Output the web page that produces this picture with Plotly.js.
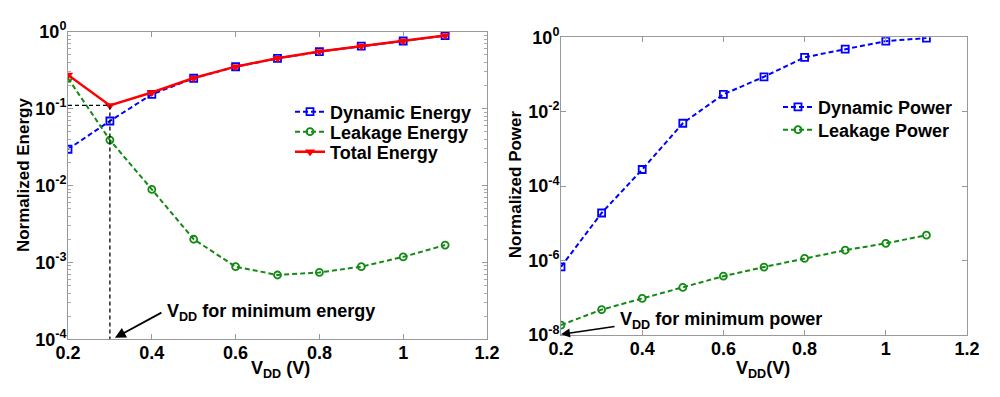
<!DOCTYPE html>
<html><head><meta charset="utf-8">
<script src="https://cdn.plot.ly/plotly-3.0.1.min.js"></script>
<style>html,body{margin:0;padding:0;background:#fff}#c{width:1000px;height:397px}</style>
</head><body><div id="c"></div>
<script>
const vdd = [0.2,0.3,0.4,0.5,0.6,0.7,0.8,0.9,1.0,1.1];
const dynEnergy = [0.0296,0.069,0.153,0.248,0.35,0.45,0.55,0.65,0.757,0.887];
const leakEnergy = [0.248,0.039,0.0089,0.002,0.00088,0.000686,0.00074,0.00088,0.00118,0.00168];
const totEnergy = [0.273,0.110,0.162,0.25,0.351,0.451,0.551,0.651,0.758,0.889];
const dynPower = [6.8e-7,1.9e-5,2.8e-4,4.9e-3,0.0294,0.087,0.29,0.48,0.79,0.955];
const leakPower = [1.85e-8,4.8e-8,9.6e-8,1.9e-7,3.8e-7,6.7e-7,1.15e-6,1.9e-6,2.9e-6,4.8e-6];
const xTicks = [0.2,0.4,0.6,0.8,1,1.2];
const xTickText = ['0.2','0.4','0.6','0.8','1','1.2'];
const eTicks = [1e-4,1e-3,1e-2,1e-1,1];
const eTickText = ['10<sup>-4</sup>','10<sup>-3</sup>','10<sup>-2</sup>','10<sup>-1</sup>','10<sup>0</sup>'];
const pTicks = [1e-8,1e-6,1e-4,1e-2,1];
const pTickText = ['10<sup>-8</sup>','10<sup>-6</sup>','10<sup>-4</sup>','10<sup>-2</sup>','10<sup>0</sup>'];

const BLUE='#0000ff', GREEN='#138a13', RED='#ff0000';
const FF = 'Liberation Sans, Arial, sans-serif';
const fnt = (s)=>({family:FF,size:s,color:'#000',weight:'bold'});
const DASH = '5px,3px';

const iMin = 1; // index of min total energy
const traces = [
 {x:vdd,y:dynEnergy,name:'Dynamic Energy',mode:'lines+markers',xaxis:'x',yaxis:'y',legend:'legend',
  line:{color:BLUE,dash:DASH,width:2},marker:{symbol:'square-open',size:7,color:BLUE,line:{width:1.8}}},
 {x:vdd,y:leakEnergy,name:'Leakage Energy',mode:'lines+markers',xaxis:'x',yaxis:'y',legend:'legend2',
  line:{color:GREEN,dash:DASH,width:2},marker:{symbol:'circle-open',size:7,color:GREEN,line:{width:1.8}}},
 {x:vdd,y:totEnergy,name:'Total Energy',mode:'lines+markers',xaxis:'x',yaxis:'y',legend:'legend3',
  line:{color:RED,width:2.5},marker:{symbol:'triangle-down',size:9,color:RED}},
 {x:[vdd[0],vdd[iMin],vdd[iMin]],y:[totEnergy[iMin],totEnergy[iMin],eTicks[0]],mode:'lines',showlegend:false,
  xaxis:'x',yaxis:'y',line:{color:'#000',dash:'4px,3px',width:1.3},hoverinfo:'skip'},
 {x:vdd,y:dynPower,name:'Dynamic Power',mode:'lines+markers',xaxis:'x2',yaxis:'y2',legend:'legend4',
  line:{color:BLUE,dash:DASH,width:2},marker:{symbol:'square-open',size:7,color:BLUE,line:{width:1.8}}},
 {x:vdd,y:leakPower,name:'Leakage Power',mode:'lines+markers',xaxis:'x2',yaxis:'y2',legend:'legend5',
  line:{color:GREEN,dash:DASH,width:2},marker:{symbol:'circle-open',size:7,color:GREEN,line:{width:1.8}}}
];

const axBase = {showline:true,linecolor:'#999',linewidth:1,mirror:'ticks',ticks:'inside',ticklen:5,tickcolor:'#999',
  showgrid:false,zeroline:false,tickfont:fnt(18)};
const leg = (x,y)=>({x:x,y:y,xanchor:'left',yanchor:'middle',font:fnt(18),bgcolor:'rgba(255,255,255,0)',itemwidth:30});
const layout = {
 width:1000,height:397,margin:{l:0,r:0,t:0,b:0},paper_bgcolor:'#fff',plot_bgcolor:'#fff',
 xaxis:Object.assign({},axBase,{domain:[0.068,0.487],range:[0.2,1.2],tickvals:xTicks,ticktext:xTickText,anchor:'y',
   ticklabelstandoff:-3}),
 yaxis:Object.assign({},axBase,{domain:[0.1453,0.9202],type:'log',range:[-4,0],tickvals:eTicks,ticktext:eTickText,anchor:'x',
   ticklabelstandoff:-3,minor:{ticks:'inside',ticklen:3,tickcolor:'#aaa',dtick:'D1'}}),
 xaxis2:Object.assign({},axBase,{domain:[0.561,0.967],range:[0.2,1.2],tickvals:xTicks,ticktext:xTickText,anchor:'y2',
   ticklabelstandoff:-3}),
 yaxis2:Object.assign({},axBase,{domain:[0.1562,0.906],type:'log',range:[-8,0],tickvals:pTicks,ticktext:pTickText,anchor:'x2',
   ticklabelstandoff:-3}),
 legend:leg(0.29,0.718), legend2:leg(0.29,0.6675), legend3:leg(0.29,0.617),
 legend4:leg(0.778,0.730), legend5:leg(0.778,0.6725),
 showlegend:true,
 annotations:[
  {xref:'paper',yref:'paper',x:0.28,y:0.07,xanchor:'center',yanchor:'middle',showarrow:false,
   text:'V<sub>DD</sub> (V)',font:fnt(18)},
  {xref:'paper',yref:'paper',x:0.763,y:0.07,xanchor:'center',yanchor:'middle',showarrow:false,
   text:'V<sub>DD</sub>(V)',font:fnt(18)},
  {xref:'paper',yref:'paper',x:0.023,y:0.559,xanchor:'center',yanchor:'middle',showarrow:false,textangle:-90,
   text:'Normalized Energy',font:fnt(17)},
  {xref:'paper',yref:'paper',x:0.515,y:0.536,xanchor:'center',yanchor:'middle',showarrow:false,textangle:-90,
   text:'Normalized Power',font:fnt(17)},
  {xref:'x',yref:'y',x:0.432,y:-3.645,xanchor:'left',yanchor:'middle',showarrow:false,
   text:'V<sub>DD</sub> for minimum energy',font:fnt(18)},
  {xref:'x',yref:'y',x:0.312,y:-3.98,ax:48,ay:-26,showarrow:true,arrowhead:2,arrowsize:1.2,arrowwidth:1.8,arrowcolor:'#000',text:''},
  {xref:'x2',yref:'y2',x:0.34,y:-7.6,xanchor:'left',yanchor:'middle',showarrow:false,
   text:'V<sub>DD</sub> for minimum power',font:fnt(18)},
  {xref:'x2',yref:'y2',x:0.2,y:-7.98,ax:55,ay:-8,showarrow:true,arrowhead:2,arrowsize:1.2,arrowwidth:1.5,arrowcolor:'#000',text:''}
 ]
};
Plotly.newPlot('c',traces,layout,{displayModeBar:false,staticPlot:true});
</script></body></html>
